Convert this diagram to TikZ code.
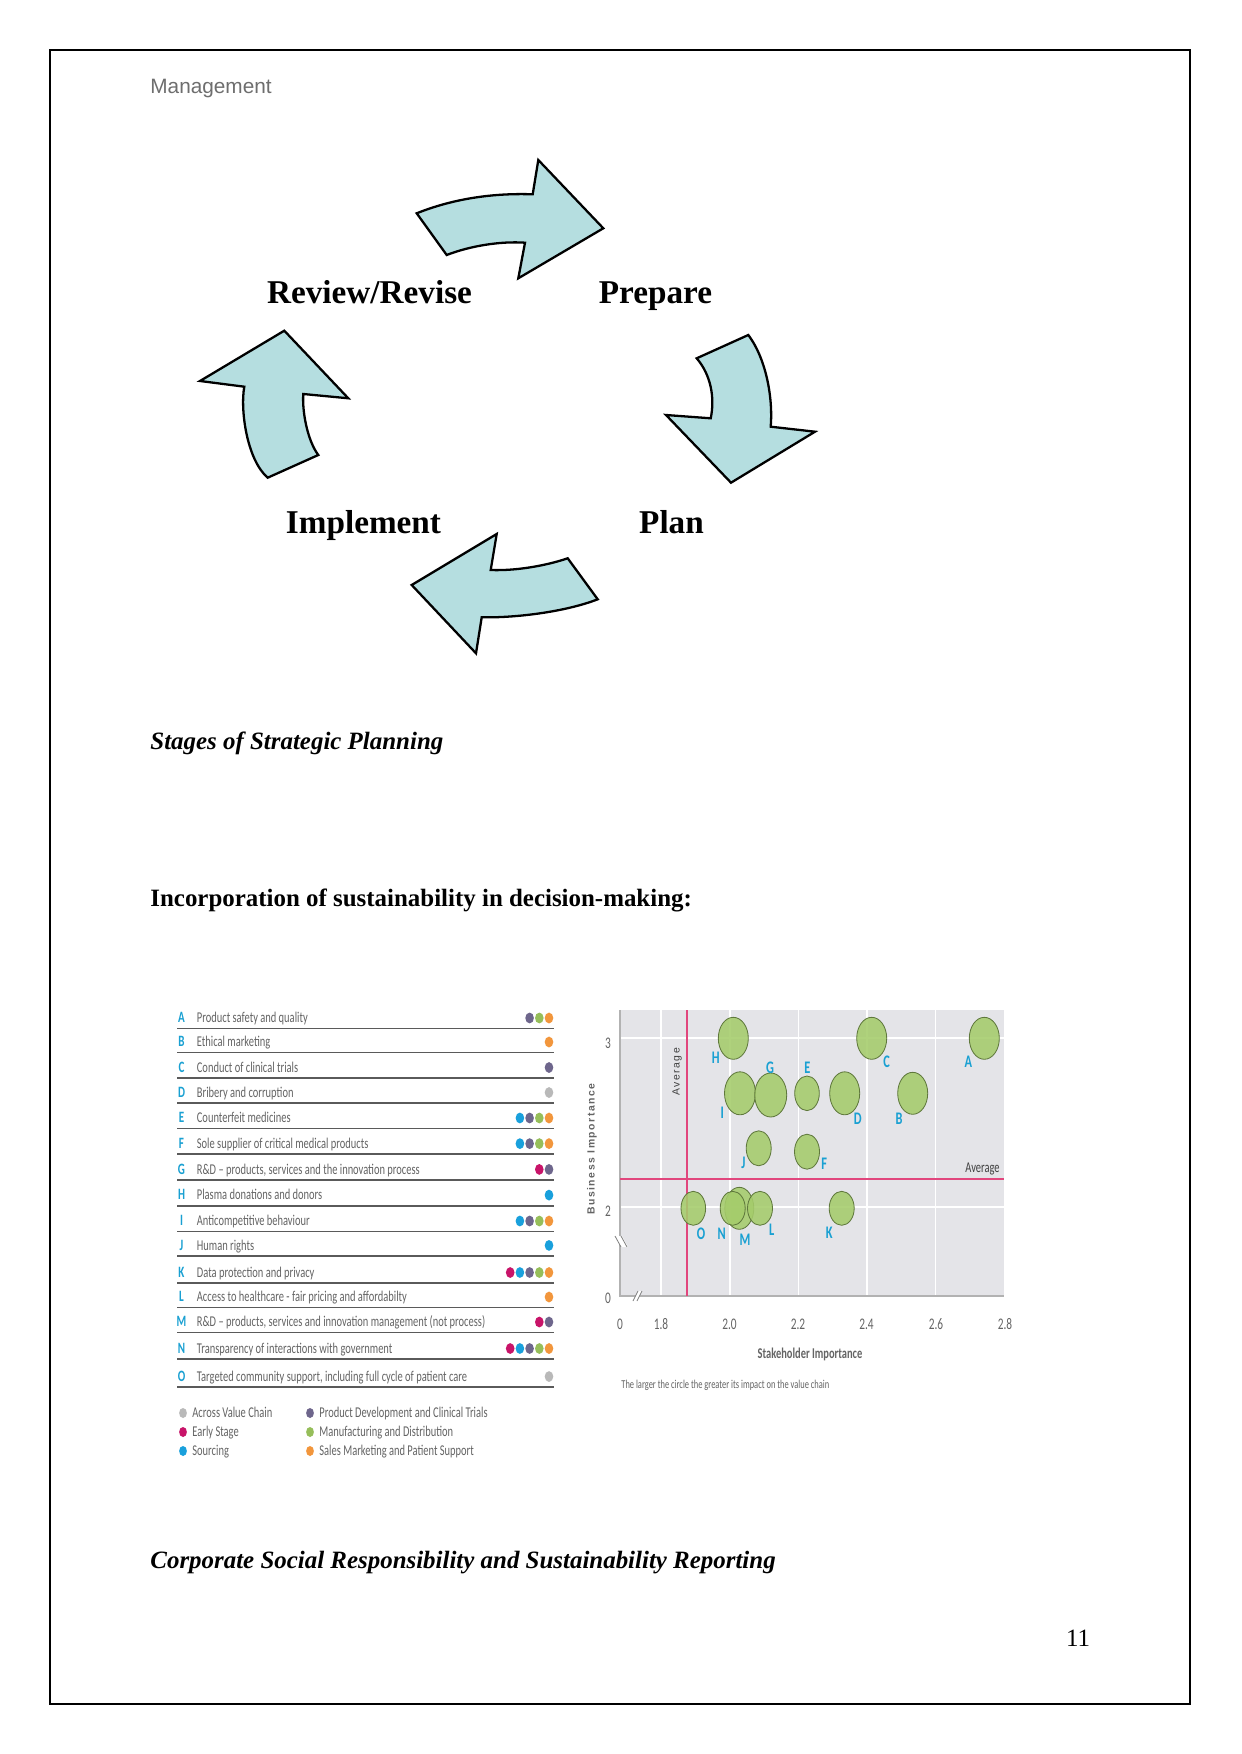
\documentclass[tikz,border=0pt]{standalone}
\usepackage{fontspec}
\setmainfont{Liberation Serif}
\newfontfamily\hdrfont{Liberation Sans}
\newfontfamily\cf[FakeStretch=0.7]{Carlito}
\newfontfamily\spaced[LetterSpace=15]{Liberation Sans}
\definecolor{arrowfill}{RGB}{181,222,224}
\definecolor{cGray}{RGB}{185,185,185}
\definecolor{cMag}{RGB}{200,20,105}
\definecolor{cBlue}{RGB}{25,160,220}
\definecolor{cPurp}{RGB}{110,102,140}
\definecolor{cGreen}{RGB}{150,190,90}
\definecolor{cOrange}{RGB}{242,150,60}
\definecolor{bubble}{RGB}{165,204,107}
\definecolor{bubbleEdge}{RGB}{95,120,60}
\definecolor{plotbg}{RGB}{228,228,232}
\definecolor{avgline}{RGB}{225,70,125}
\definecolor{letterblue}{RGB}{25,160,210}
\definecolor{tabgray}{RGB}{100,100,100}
\definecolor{hdrgray}{RGB}{110,110,110}
\tikzset{
  arr/.style={fill=arrowfill, draw=black, line width=1.1pt, line join=miter},
  stage/.style={font=\fontsize{16}{19}\selectfont\bfseries, anchor=base, inner sep=0},
  capt/.style={font=\fontsize{12}{14}\selectfont\bfseries\itshape, anchor=base west, inner sep=0},
  rowtxt/.style={font=\cf\fontsize{7.2}{8}\selectfont, text=tabgray, anchor=base west, inner sep=0},
  rowlet/.style={font=\cf\fontsize{7.6}{8}\selectfont\bfseries, text=letterblue, anchor=base, inner sep=0},
  sep/.style={draw={rgb,255:red,90;green,90;blue,90}, line width=0.9pt},
  grid/.style={draw=white, line width=0.8pt},
  avg/.style={draw=avgline, line width=0.7pt},
  tick/.style={font=\cf\fontsize{7.8}{8}\selectfont, text=tabgray, inner sep=0},
  bub/.style={fill=bubble, fill opacity=0.88, draw=bubbleEdge, line width=0.4pt},
  blab/.style={font=\cf\fontsize{8.5}{9}\selectfont\bfseries, text=letterblue, inner sep=0},
}
\begin{document}
\begin{tikzpicture}[x=0.016922cm, y=-0.016922cm]
\fill[white] (0,0) rectangle (1241,1754);
\useasboundingbox (0,0) rectangle (1241,1754);
\draw[line width=0.6pt] (50,50) rectangle (1190,1704);

\node[font=\hdrfont\fontsize{10}{12}\selectfont, text=hdrgray, anchor=base west, inner sep=0] (hdr) at (150,93.5) {Management};

% cycle arrows
\draw[arr] (416.7,213.3) .. controls (455,198) and (495,193) .. (532.7,194.3) -- (538.3,160) -- (603.3,228.3) -- (518.3,278.3) -- (525,242.7) .. controls (500,241) and (470,246) .. (446.7,255) -- cycle;
\draw[arr] (696.7,358.3) .. controls (711,375) and (715,398) .. (710.7,418.3) -- (666,415) -- (731,482.7) -- (815,431.7) -- (770.7,426.7) .. controls (773,400) and (767,360) .. (748.3,335) -- cycle;
\draw[arr] (567.7,558.3) .. controls (545,566) and (515,571) .. (490.7,570) -- (496.7,534) -- (411.7,585) -- (476,653.3) -- (481.7,617.3) .. controls (515,618) and (565,612) .. (597.7,599.3) -- cycle;
\draw[arr] (267.7,477.7) .. controls (247,460) and (240,410) .. (244.3,386.7) -- (200,381) -- (284.3,330.7) -- (348.3,398.3) -- (303.3,394) .. controls (302,410) and (307,440) .. (318.3,455) -- cycle;

\node[stage] (review) at (369.5,304) {Review/Revise};
\node[stage] (prepare) at (655.5,304) {Prepare};
\node[stage] (implement) at (363.5,533) {Implement};
\node[stage] (plan) at (671.5,533) {Plan};

\node[capt] (cap1) at (150,749) {Stages of Strategic Planning};
\node[font=\fontsize{12}{14}\selectfont\bfseries, anchor=base west, inner sep=0] (head2) at (150,906) {Incorporation of sustainability in decision-making:};
\node[capt] (cap2) at (150,1568) {Corporate Social Responsibility and Sustainability Reporting};
\node[font=\fontsize{12}{14}\selectfont, anchor=base, inner sep=0] (pageno) at (1078,1646) {11};

% table
\foreach \yy/\lt/\txt/\dl in {
1018/A/{Product safety and quality}/{cOrange,cGreen,cPurp},
1042/B/{Ethical marketing}/{cOrange},
1067.5/C/{Conduct of clinical trials}/{cPurp},
1092.5/D/{Bribery and corruption}/{cGray},
1118/E/{Counterfeit medicines}/{cOrange,cGreen,cPurp,cBlue},
1143.6/F/{Sole supplier of critical medical products}/{cOrange,cGreen,cPurp,cBlue},
1169.4/G/{R\&D – products, services and the innovation process}/{cPurp,cMag},
1195.1/H/{Plasma donations and donors}/{cBlue},
1221/I/{Anticompetitive behaviour}/{cOrange,cGreen,cPurp,cBlue},
1245.4/J/{Human rights}/{cBlue},
1272.5/K/{Data protection and privacy}/{cOrange,cGreen,cPurp,cBlue,cMag},
1297/L/{Access to healthcare - fair pricing and affordabilty}/{cOrange},
1322/M/{R\&D – products, services and innovation management (not process)}/{cPurp,cMag},
1348.5/N/{Transparency of interactions with government}/{cOrange,cGreen,cPurp,cBlue,cMag},
1376.5/O/{Targeted community support, including full cycle of patient care}/{cGray}}
{
  \node[rowlet] (let\lt) at (181.5,\yy+4.8) {\lt};
  \node[rowtxt] (txt\lt) at (196.5,\yy+4.8) {\txt};
  \draw[sep] (177,\yy+10.5) -- (554,\yy+10.5);
  \foreach \cc [count=\kk] in \dl {
    \fill[\cc] (558.7-9.7*\kk,\yy) ellipse [x radius=4.3, y radius=5.4];
  }
}

% legend
\foreach \xx/\yy/\cc/\txt [count=\ii] in {
183/1413/cGray/{Across Value Chain},
183/1432/cMag/{Early Stage},
183/1451/cBlue/{Sourcing},
310/1413/cPurp/{Product Development and Clinical Trials},
310/1432/cGreen/{Manufacturing and Distribution},
310/1451/cOrange/{Sales Marketing and Patient Support}}
{
  \fill[\cc] (\xx,\yy) ellipse [x radius=3.9, y radius=5];
  \node[rowtxt] (leg\ii) at (\xx+9,\yy+4.8) {\txt};
}

% chart
\fill[plotbg] (620,1010) rectangle (1004,1296);
\foreach \gx in {661,730,798.5,867,935.5} { \draw[grid] (\gx,1010) -- (\gx,1296); }
\foreach \gy in {1038,1207} { \draw[grid] (620,\gy) -- (1004,\gy); }
\draw[gray!60, line width=0.5pt] (620,1010) -- (620,1296) -- (1004,1296);
\draw[avg] (687,1010) -- (687,1296);
\draw[avg] (620,1179) -- (1004,1179);
% axis breaks
\fill[white] (615,1236) -- (622,1236) -- (628,1247) -- (621,1247) -- cycle;
\draw[gray, line width=0.4pt] (615,1236) -- (621,1247) (621,1236) -- (627,1247);
\fill[white] (633,1301) -- (638,1291) -- (642,1291) -- (637,1301) -- cycle;
\draw[gray, line width=0.4pt] (633,1301) -- (638,1291) (637,1301) -- (642,1291);

\node[tick] (yt3) at (608,1043) {3};
\node[tick] (yt2) at (608,1211) {2};
\node[tick] (yt0) at (608,1298) {0};
\foreach \lx/\lv in {620/0,661/1.8,729.5/2.0,798/2.2,866.5/2.4,936/2.6,1005/2.8} {
  \node[tick] (xt\lx) at (\lx,1324) {\lv};
}
\node[rotate=90, font=\spaced\fontsize{5}{6}\selectfont\bfseries, text=tabgray, inner sep=0] (ytitle) at (592,1149) {Business Importance};
\node[rotate=90, font=\spaced\fontsize{5}{6}\selectfont, text=black!75, inner sep=0] (avgv) at (677,1072) {Average};
\node[font=\cf\fontsize{7.2}{8}\selectfont, text=black!75, anchor=base east, inner sep=0] (avgh) at (1000,1172) {Average};
\node[font=\cf\fontsize{7.2}{8}\selectfont\bfseries, text=tabgray, inner sep=0] (xtitle) at (810,1354) {Stakeholder Importance};
\node[font=\cf\fontsize{5.8}{7}\selectfont, text=tabgray, anchor=west, inner sep=0] (note) at (621,1385) {The larger the circle the greater its impact on the value chain};

% bubbles
\foreach \bx/\by/\rx/\ry in {
733.3/1038.3/15/21, 871.7/1038.3/15/21, 984.3/1038.3/15/21,
740/1093.3/15.5/21.5, 770.7/1095/16/22, 807/1093.3/12.3/17.3, 844.7/1093.3/15/21.5, 912.7/1093.3/15/21,
758.7/1148.3/12.5/17.5, 807/1151.7/12.5/17.5,
693.3/1208.3/12.3/17, 739.3/1208.3/14.5/21, 732.7/1208.3/12.5/17, 760/1208.3/12.5/17, 841.7/1208.3/12.5/17}
{
  \draw[bub] (\bx,\by) ellipse [x radius=\rx, y radius=\ry];
}
\foreach \lt/\lx/\ly in {H/715.7/1057.7, C/886.7/1061.7, A/968.3/1061.7, G/770/1067.3, E/807.3/1067.3,
 I/722.3/1112.3, D/857.7/1119, B/899/1119, J/743.3/1163.3, F/824.3/1164,
 O/701/1234, N/721.7/1234, M/745/1240, L/771.7/1229.3, K/829.3/1232.3}
{
  \node[blab] (b\lt) at (\lx,\ly) {\lt};
}
\end{tikzpicture}
\end{document}
